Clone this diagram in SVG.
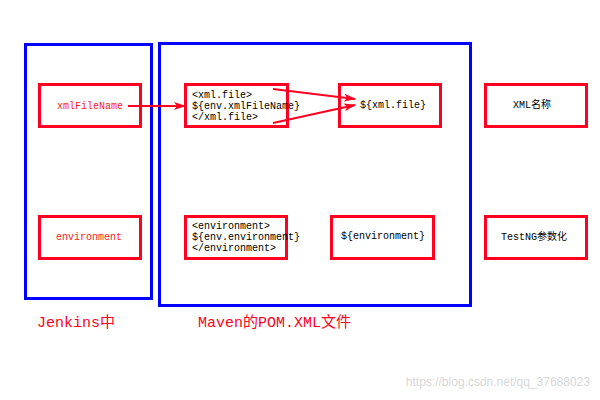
<svg xmlns="http://www.w3.org/2000/svg" width="600" height="400" viewBox="0 0 600 400">
<style>
.blue{fill:none;stroke:#0000ff;stroke-width:3}
.red{fill:none;stroke:#ff0022;stroke-width:3}
.t{font-family:"Liberation Mono","Noto Sans CJK SC",monospace;font-size:10px;fill:#000}
.tr{font-family:"Liberation Mono","Noto Sans CJK SC",monospace;font-size:10px;fill:#ff2020}
.lab{font-family:"Liberation Mono","Noto Sans CJK SC",monospace;font-size:15px;fill:#ff0022}
.c{stroke:#ff0022;stroke-width:2;fill:none;marker-end:url(#a)}
</style>
<defs><marker id="a" markerWidth="12" markerHeight="8" refX="11" refY="4" orient="auto" markerUnits="userSpaceOnUse"><path d="M0,0 L12,4 L0,8 L3,4 z" fill="#ff0022"/></marker></defs>
<rect width="600" height="400" fill="#fff"/>
<g id="jenkins"><rect class="blue" x="25.5" y="44.5" width="126" height="254"/><text class="lab" x="37" y="327">Jenkins中</text></g>
<g id="maven"><rect class="blue" x="159.5" y="43.5" width="311" height="262"/><text class="lab" x="198" y="327">Maven的POM.XML文件</text></g>
<g id="n1"><rect class="red" x="39.5" y="84.5" width="101" height="42"/><text class="tr" x="90" y="109" text-anchor="middle">xmlFileName</text></g>
<g id="n2"><rect class="red" x="185.5" y="84.5" width="102" height="42"/><text class="t" x="192" y="98">&lt;xml.file&gt;</text><text class="t" x="192" y="109">${env.xmlFileName}</text><text class="t" x="192" y="120">&lt;/xml.file&gt;</text></g>
<g id="n3"><rect class="red" x="339.5" y="84.5" width="101" height="42"/><text class="t" x="393" y="108" text-anchor="middle">${xml.file}</text></g>
<g id="n4"><rect class="red" x="485.5" y="84.5" width="101" height="42"/><text class="t" x="532" y="108" text-anchor="middle">XML名称</text></g>
<g id="n5"><rect class="red" x="39.5" y="216.5" width="101" height="42"/><text class="tr" x="89" y="240" text-anchor="middle">environment</text></g>
<g id="n6"><rect class="red" x="185.5" y="216.5" width="101" height="42"/><text class="t" x="192" y="229">&lt;environment&gt;</text><text class="t" x="192" y="240">${env.environment}</text><text class="t" x="192" y="251">&lt;/environment&gt;</text></g>
<g id="n7"><rect class="red" x="331.5" y="216.5" width="102" height="42"/><text class="t" x="383" y="239" text-anchor="middle">${environment}</text></g>
<g id="n8"><rect class="red" x="485.5" y="216.5" width="101" height="42"/><text class="t" x="534" y="240" text-anchor="middle">TestNG参数化</text></g>
<g id="connectors">
<line class="c" x1="128" y1="106" x2="185" y2="106"/>
<line class="c" x1="273" y1="89" x2="355" y2="99"/>
<line class="c" x1="273" y1="123" x2="355" y2="105"/>
</g>
<text x="590" y="386" text-anchor="end" font-family="Liberation Sans,sans-serif" font-size="12" fill="#d8d8d8">https://blog.csdn.net/qq_37688023</text>
</svg>
